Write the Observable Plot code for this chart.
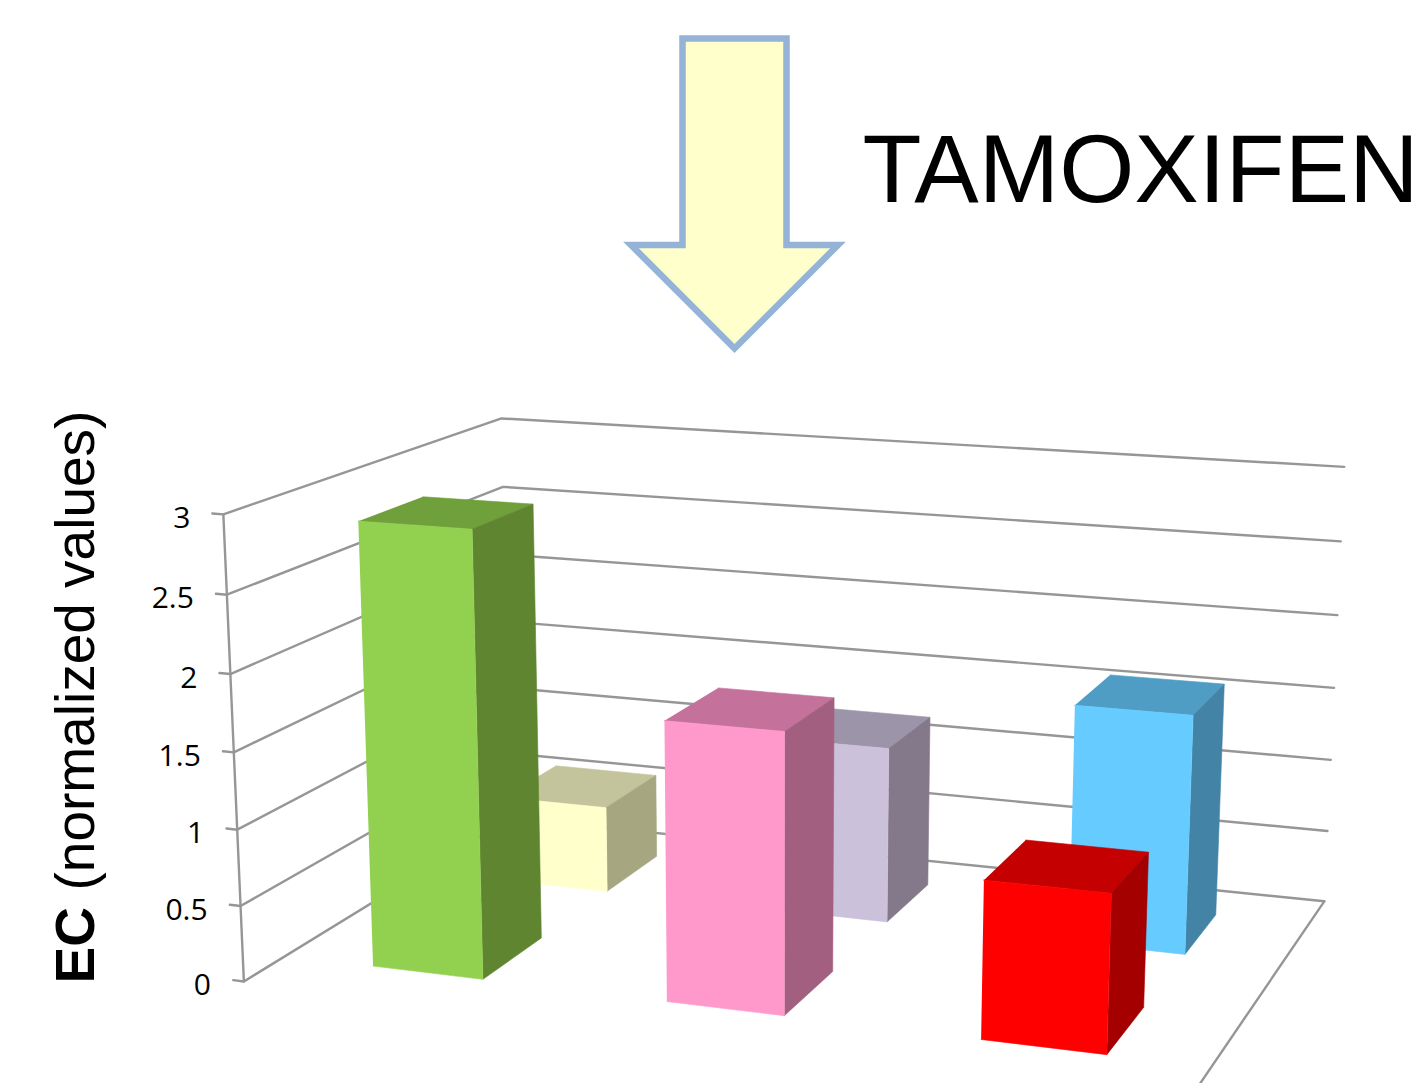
<!DOCTYPE html>
<html>
<head>
<meta charset="utf-8">
<style>
  html, body { margin: 0; padding: 0; background: #fff; }
  svg { display: block; }
</style>
<script src="https://cdn.jsdelivr.net/npm/d3@7"></script>
<script src="https://cdn.jsdelivr.net/npm/@observablehq/plot@0.6"></script>
</head>
<body>
<script>
// Normalized EC values, one bar per column and depth row
const barColumn = [0, 0, 1, 1, 2, 2];
const barRow = [0, 1, 0, 1, 0, 1];
const barValues = [2.9, 0.6, 1.8, 1.2, 1.0, 1.6];

// Face shades per bar: front, top, side
const frontColors = ["#92D050", "#FFFFCC", "#FF99CC", "#CCC1DA", "#FF0000", "#66CCFF"];
const topColors = ["#70A03C", "#C4C49C", "#C4729C", "#9C94A8", "#C40000", "#4F9DC4"];
const sideColors = ["#5F8531", "#A6A681", "#A35F80", "#84798A", "#A50000", "#4283A6"];

const tickValues = [0, 0.5, 1, 1.5, 2, 2.5, 3];
const yTitleBold = "EC";
const yTitleRest = "(normalized values)";
const drugLabel = "TAMOXIFEN";

// Perspective camera for the 3-D box: u along the columns, v into the depth, w the value
const camera = {
  x: [828.426, 356.809, -9.62895, 243.381],
  y: [9.19485, -17.9882, -162.126, 980.949],
  h: [-0.0986049, 0.177798, -0.0124935, 1]
};
const project = (u, v, w) => {
  const d = camera.h[0] * u + camera.h[1] * v + camera.h[2] * w + camera.h[3];
  return [
    (camera.x[0] * u + camera.x[1] * v + camera.x[2] * w + camera.x[3]) / d,
    (camera.y[0] * u + camera.y[1] * v + camera.y[2] * w + camera.y[3]) / d
  ];
};

// Footprint of a bar inside its column/row cell
const halfWidth = 0.0636;
const halfDepth = 0.1123;
const columnCount = 3;
const rowCount = 2;

const gridColor = "#969696";
const gridOptions = {x: (d) => d[0], y: (d) => d[1], stroke: gridColor, strokeWidth: 2.4, strokeLinejoin: "miter"};

// Left wall, back wall and floor of the box
const gridLines = tickValues.map((w) => [project(-0.0125, 0, w), project(0, 0, w), project(0, 1, w), project(1, 1, w)]);
const verticalAxis = [project(0, 0, 0), project(0, 0, 3)];
const floorEdge = [project(1, 1, 0), project(1, 0, 0)];

// Draw the deeper row first so the front row paints over it
const barOrder = d3.range(barValues.length).sort((a, b) => barRow[b] - barRow[a] || barColumn[a] - barColumn[b]);

const barFaces = barOrder.flatMap((i) => {
  const u = (barColumn[i] + 0.5) / columnCount;
  const v = (barRow[i] + 0.5) / rowCount;
  const [u0, u1, v0, v1] = [u - halfWidth, u + halfWidth, v - halfDepth, v + halfDepth];
  const h = barValues[i];
  return [
    {color: topColors[i], points: [project(u0, v0, h), project(u1, v0, h), project(u1, v1, h), project(u0, v1, h)]},
    {color: sideColors[i], points: [project(u1, v0, 0), project(u1, v1, 0), project(u1, v1, h), project(u1, v0, h)]},
    {color: frontColors[i], points: [project(u0, v0, 0), project(u1, v0, 0), project(u1, v0, h), project(u0, v0, h)]}
  ];
});

// Down arrow above the chart, outline traced from the middle of its top edge
const arrowCentre = 734;
const shaftHalf = 52;
const headHalf = 103.5;
const arrowTop = 38;
const arrowShoulder = 244.5;
const arrowTip = 348;
const arrowOutline = [
  [arrowCentre, arrowTop],
  [arrowCentre + shaftHalf, arrowTop],
  [arrowCentre + shaftHalf, arrowShoulder],
  [arrowCentre + headHalf, arrowShoulder],
  [arrowCentre, arrowTip],
  [arrowCentre - headHalf, arrowShoulder],
  [arrowCentre - shaftHalf, arrowShoulder],
  [arrowCentre - shaftHalf, arrowTop],
  [arrowCentre, arrowTop]
];

const plot = Plot.plot({
  width: 1422,
  height: 1083,
  margin: 0,
  x: {domain: [0, 1422], range: [0, 1422], axis: null},
  y: {domain: [0, 1083], range: [0, 1083], axis: null},
  marks: [
    ...gridLines.map((line) => Plot.line(line, gridOptions)),
    Plot.line(verticalAxis, gridOptions),
    Plot.line(floorEdge, gridOptions),
    Plot.text(tickValues, {
      x: (w) => project(0, 0, w)[0],
      y: (w) => project(0, 0, w)[1],
      text: (w) => String(w),
      dx: -33,
      dy: 4,
      textAnchor: "end",
      fontFamily: "Open Sans",
      fontWeight: 500,
      fontSize: 30,
      fill: "#000"
    }),
    ...barFaces.map((face) => Plot.line(face.points, {
      x: (d) => d[0],
      y: (d) => d[1],
      fill: face.color,
      stroke: face.color,
      strokeWidth: 0.6
    })),
    Plot.line(arrowOutline, {
      x: (d) => d[0],
      y: (d) => d[1],
      fill: "#FFFFCC",
      stroke: "#95B3D7",
      strokeWidth: 6.5,
      strokeLinejoin: "miter",
      strokeMiterlimit: 10
    }),
    Plot.text([drugLabel], {
      x: () => 862,
      y: () => 171,
      text: (d) => d,
      textAnchor: "start",
      fontFamily: "Liberation Sans",
      fontSize: 96.6,
      fill: "#000"
    }),
    Plot.text([yTitleBold], {
      x: () => 75.5,
      y: () => 983,
      text: (d) => d,
      rotate: -90,
      textAnchor: "start",
      fontFamily: "Liberation Sans",
      fontWeight: "bold",
      fontSize: 55,
      fill: "#000"
    }),
    Plot.text([yTitleRest], {
      x: () => 75.5,
      y: () => 890,
      text: (d) => d,
      rotate: -90,
      textAnchor: "start",
      fontFamily: "Liberation Sans",
      fontSize: 55,
      fill: "#000"
    })
  ]
});
document.body.appendChild(plot);
</script>
</body>
</html>
